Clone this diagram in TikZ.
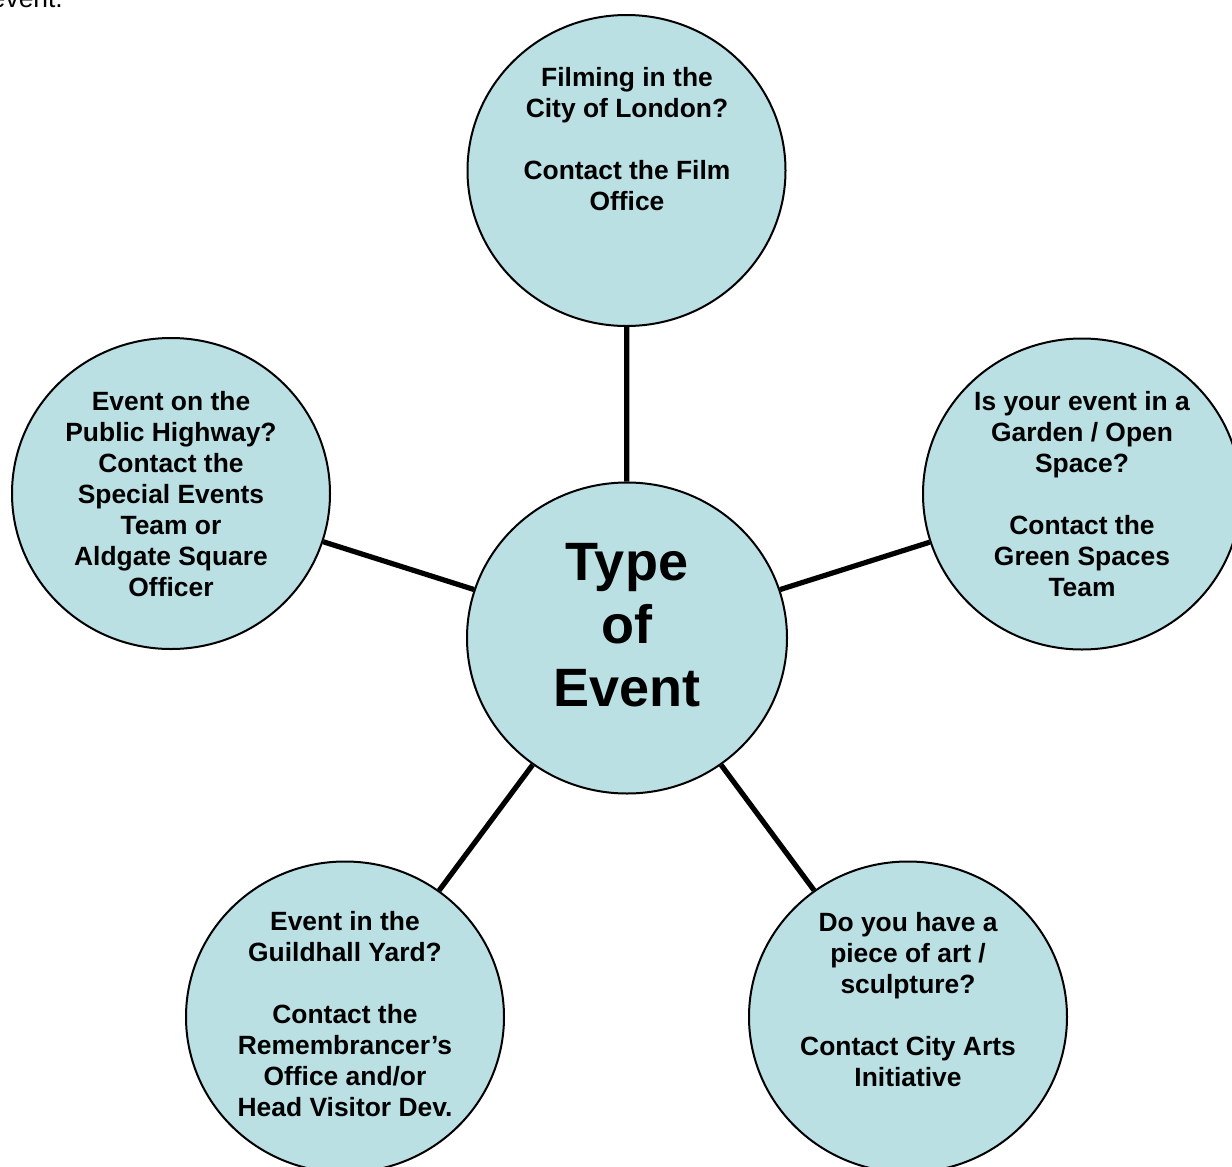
\documentclass[tikz,border=0pt]{standalone}
\usepackage{fontspec}
\setmainfont{Liberation Sans}
\usetikzlibrary{shapes.geometric}
\definecolor{bubble}{RGB}{186,224,228}
\tikzset{
  bubble/.style={ellipse, draw=black, line width=2pt, fill=bubble,
    minimum width=318pt, minimum height=311pt, inner sep=0pt},
  hub/.style={bubble, minimum width=320pt, minimum height=311pt},
  txt/.style={align=center, inner sep=0pt,
    font=\bfseries\fontsize{26.4}{31}\selectfont},
  bigtxt/.style={align=center, inner sep=0pt,
    font=\bfseries\fontsize{54}{63}\selectfont},
  spoke/.style={line width=5.2pt, draw=black}
}
\begin{document}
\begin{tikzpicture}[x=1pt,y=-1pt]
\useasboundingbox (0,0) rectangle (1232,1167);
% circles
\node[hub] (c) at (627,638) {};
\node[bubble] (t) at (626.5,170.5) {};
\node[bubble] (l) at (171,493.5) {};
\node[bubble] (r) at (1082,494) {};
\node[bubble] (bl) at (345,1017) {};
\node[bubble] (br) at (908,1017) {};
% spokes
\draw[spoke] (c) -- (t);
\draw[spoke] (c) -- (l);
\draw[spoke] (c) -- (r);
\draw[spoke] (c) -- (bl);
\draw[spoke] (c) -- (br);
% texts
\node[bigtxt] (ct) at (627,625) {Type\\of\\Event};
\node[txt] (tt) at (627,139.5) {Filming in the\\City of London?\\[31pt]Contact the Film\\Office};
\node[txt] (lt) at (171,494) {Event on the\\Public Highway?\\Contact the\\Special Events\\Team or\\Aldgate Square\\Officer};
\node[txt] (rt) at (1082,494.5) {Is your event in a\\Garden / Open\\Space?\\[31pt]Contact the\\Green Spaces\\Team};
\node[txt] (blt) at (345,1014) {Event in the\\Guildhall Yard?\\[31pt]Contact the\\Remembrancer’s\\Office and/or\\Head Visitor Dev.};
\node[txt] (brt) at (908,999.5) {Do you have a\\piece of art /\\sculpture?\\[31pt]Contact City Arts\\Initiative};
\node[anchor=base east, inner sep=0pt, font=\fontsize{26.4}{31}\selectfont] (ev) at (63,7.5) {event.};
\end{tikzpicture}
\end{document}
